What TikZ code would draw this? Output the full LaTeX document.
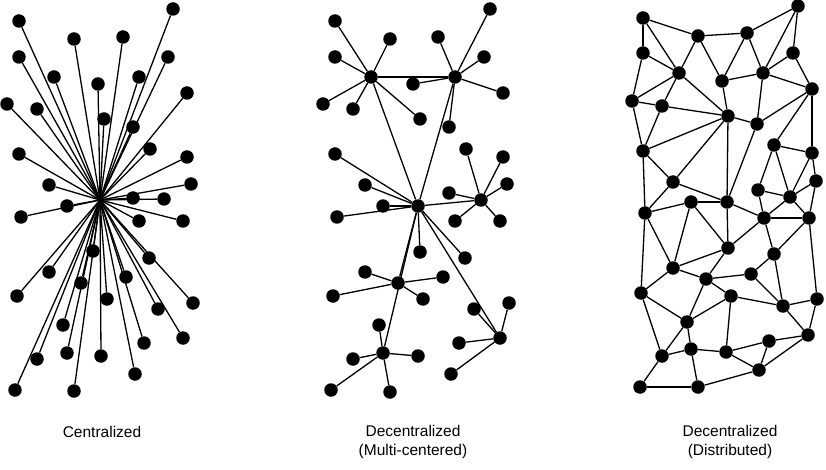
\documentclass[tikz,border=0pt]{standalone}
\usepackage{fontspec}
\setmainfont{Liberation Sans}
\begin{document}
\begin{tikzpicture}[x=1pt,y=-1pt,
  dot/.style={circle,fill=black,inner sep=0pt,minimum size=13.5pt},
  link/.style={line width=1.3pt,black},
  caption/.style={font=\fontsize{15.5}{19}\selectfont,align=center,inner sep=0pt}]
\fill[white] (0,0) rectangle (826,470);
\useasboundingbox (0,0) rectangle (826,470);
% ---------------- Centralized ----------------
\coordinate (l0) at (100,200);
\foreach \px/\py [count=\i] in {19/21,173/9,74/39,123/37,19/57,168/57,54/77,139/77,98/84,187/93,
  7/104,37/109,104/119,133/127,150/149,19/154,187/157,49/185,191/184,133/198,
  164/199,67/206,21/217,139/221,183/221,93/251,149/258,49/272,126/277,81/283,
  17/296,107/299,193/303,158/309,63/325,183/338,144/343,37/359,67/353,101/356,
  135/374,15/390,74/391}{
  \node[dot] (l\i) at (\px,\py) {};
  \draw[link] (l0) -- (l\i);
}
% ---------------- Decentralized ----------------
\node[dot] (A) at (371,77) {};
\node[dot] (B) at (455,77) {};
\node[dot] (C) at (418,206) {};
\node[dot] (D) at (481,200) {};
\node[dot] (E) at (398,283) {};
\node[dot] (F) at (500,338) {};
\node[dot] (G) at (383,353) {};
\foreach \n/\px/\py in {a1/335/21,a2/390/39,a3/335/57,a4/323/104,a5/353/109,a6/420/119}
  {\node[dot] (\n) at (\px,\py) {}; \draw[link] (A) -- (\n);}
\foreach \n/\px/\py in {b1/490/9,b2/438/37,b3/484/57,b4/413/84,b5/503/93,b6/449/127}
  {\node[dot] (\n) at (\px,\py) {}; \draw[link] (B) -- (\n);}
\foreach \n/\px/\py in {c1/335/154,c2/365/185,c3/383/206,c4/337/217,c5/420/252,c6/465/258}
  {\node[dot] (\n) at (\px,\py) {}; \draw[link] (C) -- (\n);}
\foreach \n/\px/\py in {d1/466/149,d2/503/157,d3/507/184,d4/449/193,d5/455/221,d6/500/221}
  {\node[dot] (\n) at (\px,\py) {}; \draw[link] (D) -- (\n);}
\foreach \n/\px/\py in {e1/365/272,e2/443/277,e3/333/296,e4/423/299}
  {\node[dot] (\n) at (\px,\py) {}; \draw[link] (E) -- (\n);}
\foreach \n/\px/\py in {f1/474/309,f2/509/303,f3/459/343,f4/451/374}
  {\node[dot] (\n) at (\px,\py) {}; \draw[link] (F) -- (\n);}
\foreach \n/\px/\py in {g1/379/325,g2/353/359,g3/418/356,g4/331/390,g5/390/392}
  {\node[dot] (\n) at (\px,\py) {}; \draw[link] (G) -- (\n);}
\draw[link] (A) -- (B);
\draw[link] (A) -- (C);
\draw[link] (B) -- (C);
\draw[link] (C) -- (D);
\draw[link] (C) -- (E);
\draw[link] (C) -- (G);
\draw[link] (C) -- (F);
% ---------------- Distributed ----------------
\foreach \n/\px/\py in {r1/643/18,r2/798/6,r3/698/36,r4/747/33,r5/643/53,r6/793/53,r7/679/73,
  r8/722/81,r9/763/73,r10/812/89,r11/632/101,r12/662/106,r13/728/116,r14/757/124,
  s1/643/151,s2/774/145,s3/812/153,s4/673/182,s5/816/181,s6/758/190,s7/790/197,
  s8/691/202,s9/727/202,s10/645/213,s11/764/218,s12/809/218,s13/728/248,s14/774/254,
  t1/673/268,t2/706/279,t3/751/274,t4/641/293,t5/731/296,t6/783/306,t7/817/299,
  t8/687/322,t9/808/335,t10/769/341,t11/691/349,t12/726/352,t13/662/356,t14/759/370,
  t15/640/387,t16/698/387}
  {\node[dot] (\n) at (\px,\py) {};}
\foreach \u/\v in {r1/r5,r1/r3,r1/r7,r3/r4,r3/r7,r3/r8,r4/r2,r4/r8,r4/r9,r2/r6,r2/r9,
  r5/r7,r5/r11,r6/r9,r6/r10,r9/r8,r9/r10,r9/r14,r7/r11,r7/r12,r7/r13,r8/r13,
  r11/r12,r12/r13,r13/r14,r14/r10,
  r10/s3,r11/s1,r12/s1,r13/s1,r13/s4,r13/s9,r14/s9,r10/s2,
  s2/s3,s2/s6,s2/s7,s3/s5,s3/s7,s5/s7,s5/s12,s6/s7,s6/s11,s7/s11,s7/s12,s11/s12,
  s1/s4,s1/s10,s4/s10,s4/s9,s8/s9,s8/s10,s8/t1,s8/s13,s10/t1,s10/t4,s9/s11,s9/s13,
  s11/s13,s11/s14,s12/s14,s12/t7,s13/t1,
  t1/t4,t1/t2,s13/t2,t3/s14,s14/t6,t2/t3,t2/t5,t2/t8,t3/t6,t4/t8,t4/t13,t5/t6,t5/t8,
  t5/t12,t6/t7,t6/t9,t7/t9,t8/t11,t8/t13,t9/t10,t9/t14,t10/t12,t10/t14,t11/t13,
  t11/t12,t11/t16,t12/t14,t13/t15,t15/t16,t14/t16}
  {\draw[link] (\u) -- (\v);}
% ---------------- Captions ----------------
\node[caption] (cap1) at (102,432) {Centralized};
\node[caption,anchor=north] (cap2) at (413,425) {Decentralized\\(Multi-centered)};
\node[caption,anchor=north] (cap3) at (730,425) {Decentralized\\(Distributed)};
\end{tikzpicture}
\end{document}
